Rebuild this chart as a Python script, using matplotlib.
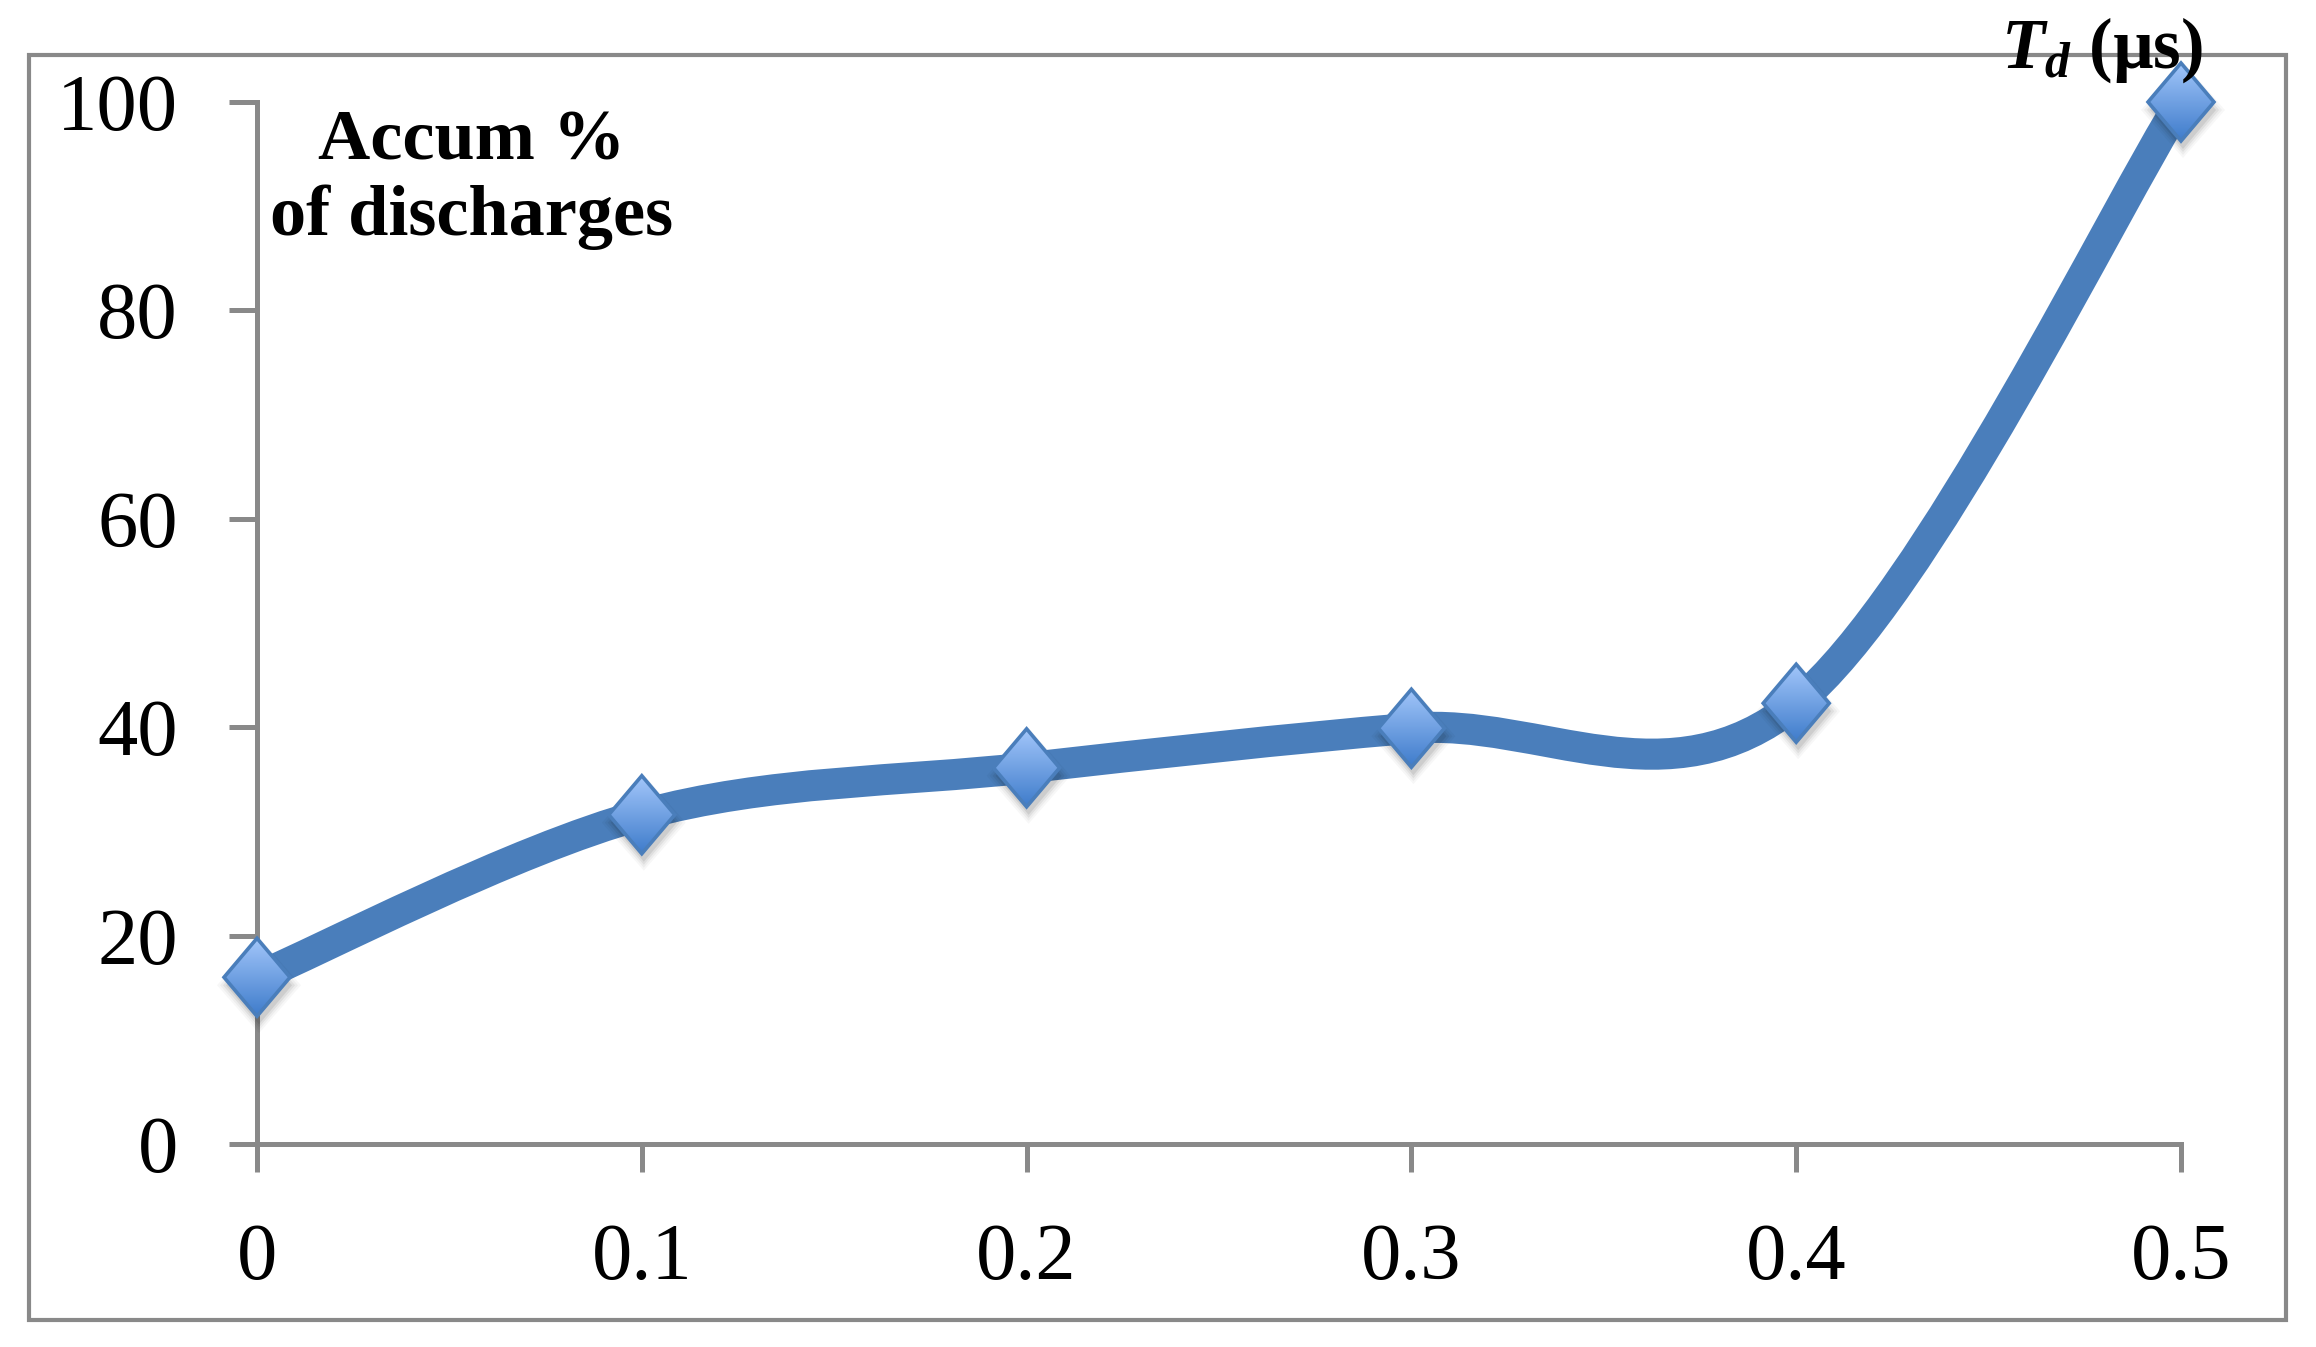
import numpy as np
import matplotlib
matplotlib.use("Agg")
import matplotlib.pyplot as plt
from matplotlib.path import Path
from matplotlib.patches import PathPatch, Polygon, Rectangle
from matplotlib.colors import LinearSegmentedColormap

# ── Data ──────────────────────────────────────────────────────────────────
td_us      = [0, 0.1, 0.2, 0.3, 0.4, 0.5]
accum_pct  = [16, 31.6, 36.1, 39.9, 42.3, 100]
x_ticks    = [0, 0.1, 0.2, 0.3, 0.4, 0.5]
x_labels   = ["0", "0.1", "0.2", "0.3", "0.4", "0.5"]
y_ticks    = [0, 20, 40, 60, 80, 100]

# ── Style ─────────────────────────────────────────────────────────────────
LINE   = "#4A7EBB"
TOP    = "#A2C6FA"
BOTTOM = "#3F7CCB"
GREY   = "#898989"
SERIF  = "Liberation Serif"

plt.rcParams["mathtext.fontset"] = "custom"
plt.rcParams["mathtext.it"] = "Liberation Serif:italic:bold"
plt.rcParams["mathtext.rm"] = "Liberation Serif:bold"

DPI = 200
fig = plt.figure(figsize=(2316 / DPI, 1347 / DPI), dpi=DPI, facecolor="white")
ax = fig.add_axes([257 / 2316, 1 - 1144 / 1347, (2181 - 257) / 2316, (1144 - 102) / 1347])
ax.set_facecolor("white")

# outer chart frame
fig.patches.append(Rectangle((29 / 2316, 1 - 1320 / 1347), (2286 - 29) / 2316, (1320 - 55) / 1347,
                             transform=fig.transFigure, fill=False, edgecolor=GREY, lw=1.5, zorder=0))


def smooth_path(xs, ys):
    # Excel-style smoothed line: cubic Bezier through each point
    pts = np.column_stack([xs, ys]).astype(float)
    n = len(pts)
    verts, codes = [pts[0]], [Path.MOVETO]
    for i in range(n - 1):
        p0, p1 = pts[max(i - 1, 0)], pts[i]
        p2, p3 = pts[i + 1], pts[min(i + 2, n - 1)]
        verts += [p1 + (p2 - p0) / 6, p2 - (p3 - p1) / 6, p2]
        codes += [Path.CURVE4] * 3
    return Path(verts, codes)


ax.set_xlim(0, 0.5)
ax.set_ylim(0, 100)

ax.add_patch(PathPatch(smooth_path(td_us, accum_pct), facecolor="none", edgecolor=LINE,
                       lw=11.2, capstyle="round", joinstyle="round", clip_on=False, zorder=3))


def diamond(x, y, rx, ry, dx=0, dy=0):
    cx, cy = ax.transData.transform((x, y))
    cx, cy = cx + dx, cy + dy
    disp = [(cx, cy + ry), (cx + rx, cy), (cx, cy - ry), (cx - rx, cy)]
    return ax.transData.inverted().transform(disp)


cmap = LinearSegmentedColormap.from_list("grad", [TOP, BOTTOM])
grad = np.linspace(0, 1, 64)[:, None]
RX, RY = 33, 39
for x, y in zip(td_us, accum_pct):
    # soft shadow
    for grow, a in [(9, 0.03), (6, 0.04), (3, 0.06), (0, 0.08)]:
        ax.add_patch(Polygon(diamond(x, y, RX + grow, RY + grow, 2, -8), closed=True,
                             facecolor="black", edgecolor="none", alpha=a, clip_on=False, zorder=4))
    shape = diamond(x, y, RX, RY)
    clip = Polygon(shape, closed=True, transform=ax.transData)
    im = ax.imshow(grad, cmap=cmap, aspect="auto", interpolation="bilinear", zorder=5,
                   extent=[shape[:, 0].min(), shape[:, 0].max(), shape[:, 1].min(), shape[:, 1].max()])
    im.set_clip_box(fig.bbox)
    im.set_clip_path(clip)
    ax.add_patch(Polygon(shape, closed=True, facecolor="none", edgecolor=LINE, lw=1.3,
                         joinstyle="miter", clip_on=False, zorder=6))

ax.set_xlim(0, 0.5)
ax.set_ylim(0, 100)

# ── Axes styling ──────────────────────────────────────────────────────────
for s in ["top", "right"]:
    ax.spines[s].set_visible(False)
for s in ["left", "bottom"]:
    ax.spines[s].set_color(GREY)
    ax.spines[s].set_linewidth(1.8)

ax.set_xticks(x_ticks)
ax.set_xticklabels(x_labels)
ax.set_yticks(y_ticks)
ax.tick_params(direction="out", length=10, width=1.8, color=GREY, pad=18.5,
               labelsize=29, labelcolor="black")
for lbl in ax.get_xticklabels() + ax.get_yticklabels():
    lbl.set_fontfamily(SERIF)

# ── Labels ────────────────────────────────────────────────────────────────
fig.text(472 / 2316, 1 - 160 / 1347, "Accum %", ha="center", va="baseline",
         fontsize=26, fontweight="bold", family=SERIF)
fig.text(472 / 2316, 1 - 235 / 1347, "of discharges", ha="center", va="baseline",
         fontsize=26, fontweight="bold", family=SERIF)
fig.text(2102 / 2316, 1 - 68 / 1347, r"$T_d$ (µs)", ha="center", va="baseline",
         fontsize=25.5, fontweight="bold", family=SERIF, zorder=10)

fig.savefig("out.png", dpi=DPI, facecolor="white")
